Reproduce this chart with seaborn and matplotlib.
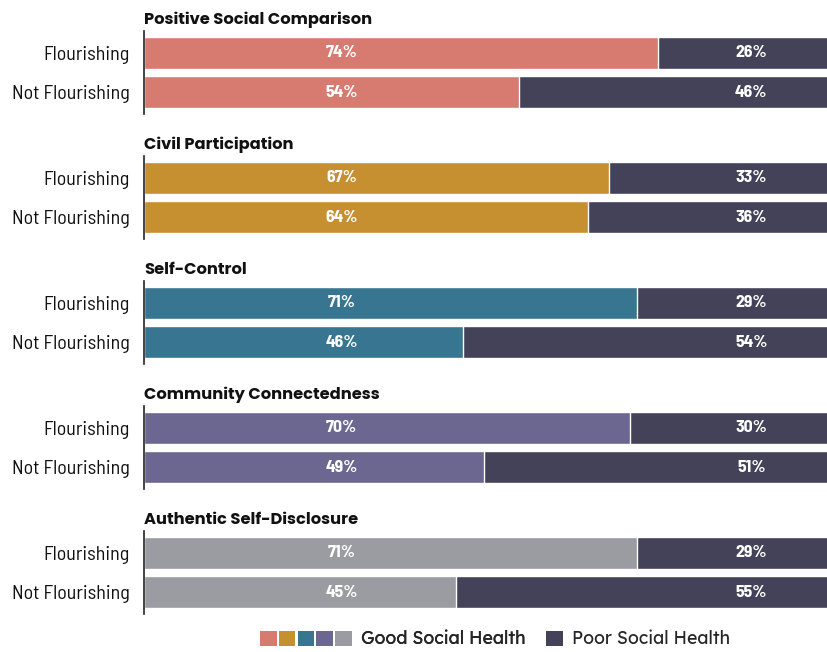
import matplotlib
matplotlib.use("Agg")
import logging
import matplotlib.pyplot as plt
from matplotlib.patches import Patch
from matplotlib.legend_handler import HandlerTuple
import seaborn as sns
import pandas as pd

logging.getLogger("matplotlib.font_manager").setLevel(logging.ERROR)

# ---- data -------------------------------------------------------------
topics = [
    "Positive Social Comparison",
    "Civil Participation",
    "Self-Control",
    "Community Connectedness",
    "Authentic Self-Disclosure",
]
groups = ["Flourishing", "Not Flourishing"]
good_health = [
    [74, 54],
    [67, 64],
    [71, 46],
    [70, 49],
    [71, 45],
]
poor_health = [
    [26, 46],
    [33, 36],
    [29, 54],
    [30, 51],
    [29, 55],
]
good_colors = ["#D77B71", "#C68F2F", "#377591", "#6C6791", "#9A9CA2"]
poor_color = "#444259"
legend_labels = ["Good Social Health", "Poor Social Health"]

# ---- style ------------------------------------------------------------
sns.set_theme(style="white")
narrow = ["Barlow Semi Condensed", "Barlow Condensed", "Roboto Condensed", "DejaVu Sans"]
title_font = ["Poppins", "Lato", "DejaVu Sans"]
body_font = ["Lexend", "Outfit", "Lato", "DejaVu Sans"]

W, H = 828, 652
fig = plt.figure(figsize=(W / 100, H / 100), dpi=100)

left_px, right_px = 144, 838
panel_h = 83
first_top = 31
step = 125

for i, topic in enumerate(topics):
    top = first_top + i * step
    ax = fig.add_axes([left_px / W, 1 - (top + panel_h) / H,
                       (right_px - left_px) / W, panel_h / H])
    df = pd.DataFrame({
        "group": groups,
        "good": good_health[i],
        "poor": poor_health[i],
    })
    df["total"] = df["good"] + df["poor"]
    # stacked bars: full bar in the "poor" colour, good share drawn over it
    sns.barplot(data=df, x="total", y="group", color=poor_color,
                width=0.81, saturation=1, ax=ax, orient="h")
    sns.barplot(data=df, x="good", y="group", color=good_colors[i],
                width=0.81, saturation=1, ax=ax, orient="h")
    ax.set_xlim(0, 100)
    ax.set_ylim(1.55, -0.55)
    ax.set_xlabel("")
    ax.set_ylabel("")
    ax.set_xticks([])
    for s in ["top", "right", "bottom"]:
        ax.spines[s].set_visible(False)
    ax.spines["left"].set_color("#222222")
    ax.spines["left"].set_linewidth(1.2)
    ax.tick_params(axis="y", length=0, pad=10.5)
    for lab in ax.get_yticklabels():
        lab.set_fontfamily(narrow)
        lab.set_fontsize(14.4)
        lab.set_color("#111111")

    for j, row in df.iterrows():
        ax.text(28.5, j, f"{row['good']}%", ha="center", va="center",
                color="white", fontsize=12.8, fontweight="bold",
                family=narrow)
        ax.text(87.5, j, f"{row['poor']}%", ha="center", va="center",
                color="white", fontsize=12.8, fontweight="bold",
                family=narrow)

    ax.annotate(topic, xy=(0, 1), xycoords="axes fraction",
                xytext=(0, 5), textcoords="offset points",
                ha="left", va="baseline", fontsize=11.7,
                fontweight="bold", family=title_font, color="#111111")

# ---- legend -----------------------------------------------------------
good_handles = tuple(Patch(facecolor=c, edgecolor="none") for c in good_colors)
leg1 = fig.legend([good_handles], [legend_labels[0]],
                  handler_map={tuple: HandlerTuple(ndivide=None, pad=0.12)},
                  loc="center left", bbox_to_anchor=(260 / W, 1 - 639.5 / H),
                  frameon=False, borderpad=0, borderaxespad=0,
                  handlelength=5.2, handleheight=0.97, handletextpad=0.52,
                  prop={"family": body_font, "size": 12.7})
fig.add_artist(leg1)
fig.legend([Patch(facecolor=poor_color, edgecolor="none")], [legend_labels[1]],
           loc="center left", bbox_to_anchor=(546 / W, 1 - 639.5 / H),
           frameon=False, borderpad=0, borderaxespad=0,
           handlelength=0.96, handleheight=0.97, handletextpad=0.52,
           prop={"family": body_font, "size": 12.7})

fig.savefig("out.png", dpi=100)
